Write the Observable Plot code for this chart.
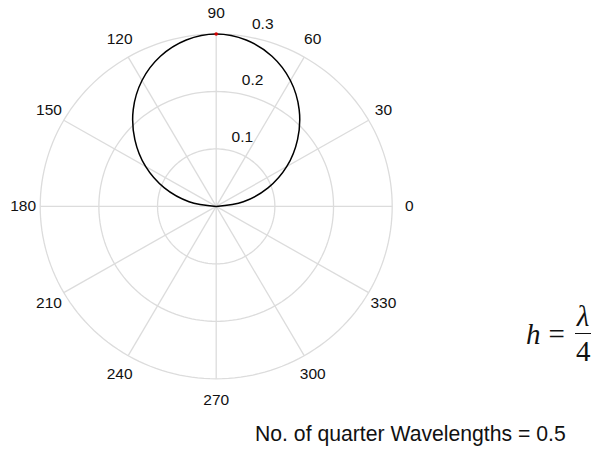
<!DOCTYPE html>
<html>
<head>
<meta charset="utf-8">
<script src="https://cdn.jsdelivr.net/npm/d3@7"></script>
<script src="https://cdn.jsdelivr.net/npm/@observablehq/plot@0.6"></script>
<style>
  html, body { margin: 0; padding: 0; background: #fff; }
  #wrap { position: relative; width: 593px; height: 450px; overflow: hidden; }
  #formula { position: absolute; left: 526px; top: 302px; display: flex; align-items: center;
    font-family: "Liberation Serif", "DejaVu Serif", serif; font-size: 29px; color: #111; }
  #formula .frac { display: inline-flex; flex-direction: column; align-items: center; }
  #formula .num { font-style: italic; line-height: 1; border-bottom: 1.6px solid #111; padding: 0 2px 2px 2px; }
  #formula .den { line-height: 1; padding-top: 3px; }
  #caption { position: absolute; left: 255px; top: 422px; font-family: "Liberation Sans", Arial, sans-serif;
    font-size: 21.2px; color: #111; white-space: nowrap; }
</style>
</head>
<body>
<div id="wrap">
  <div id="chart"></div>
  <div id="formula"><span style="font-style:italic">h</span><span style="margin:0 10px 0 8px">=</span><span class="frac"><span class="num">λ</span><span class="den">4</span></span></div>
  <div id="caption">No. of quarter Wavelengths = 0.5</div>
</div>
<script>
// Radiation pattern (angle in degrees, radius)
const patternAngles = [0, 10, 20, 30, 40, 50, 60, 70, 80, 90, 100, 110, 120, 130, 140, 150, 160, 170, 180];
const patternGain   = [0, 0.047, 0.094, 0.139, 0.181, 0.220, 0.253, 0.278, 0.294, 0.300, 0.294, 0.278, 0.253, 0.220, 0.181, 0.139, 0.094, 0.047, 0];
// Peak marker
const peakAngles = [90];
const peakGain = [0.3];
// Grid
const ringValues = [0.1, 0.2, 0.3];
const ringLabels = ["0.1", "0.2", "0.3"];
const spokeAngles = [0, 30, 60, 90, 120, 150, 180, 210, 240, 270, 300, 330];
const angleLabels = ["0", "30", "60", "90", "120", "150", "180", "210", "240", "270", "300", "330"];

const rad = d => d * Math.PI / 180;
const rMax = d3.max(ringValues);

const curve = patternAngles.map((a, i) => ({x: patternGain[i] * Math.cos(rad(a)), y: patternGain[i] * Math.sin(rad(a))}));
const peak = peakAngles.map((a, i) => ({x: peakGain[i] * Math.cos(rad(a)), y: peakGain[i] * Math.sin(rad(a))}));
const ringPts = ringValues.flatMap(r => d3.range(0, 361, 2).map(t => ({r, x: r * Math.cos(rad(t)), y: r * Math.sin(rad(t))})));
const spokes = spokeAngles.map(a => ({x2: rMax * Math.cos(rad(a)), y2: rMax * Math.sin(rad(a))}));
const angleLab = spokeAngles.map((a, i) => ({text: angleLabels[i], x: rMax * 1.097 * Math.cos(rad(a)), y: rMax * 1.122 * Math.sin(rad(a))}));
const ringLab = ringValues.map((r, i) => ({text: ringLabels[i], x: r * Math.cos(rad(80)), y: r * Math.sin(rad(80))}));

const grid = "#dcdcdc";
const chart = Plot.plot({
  width: 593,
  height: 450,
  margin: 0,
  x: {domain: [-rMax, rMax], range: [39.7, 391.7], axis: null},
  y: {domain: [-rMax, rMax], range: [378.3, 33.5], axis: null},
  style: {fontFamily: "'Liberation Sans', Arial, sans-serif", background: "white"},
  marks: [
    Plot.line(ringPts, {x: "x", y: "y", z: "r", stroke: grid, strokeWidth: 1.3}),
    Plot.link(spokes, {x1: 0, y1: 0, x2: "x2", y2: "y2", stroke: grid, strokeWidth: 1.3}),
    Plot.text(angleLab, {x: "x", y: "y", text: "text", fontSize: 15.5, fill: "#111", textAnchor: "middle", lineAnchor: "middle"}),
    Plot.text(ringLab, {x: "x", y: "y", text: "text", fontSize: 15.5, fill: "#111", textAnchor: "middle", lineAnchor: "middle", dx: 16, dy: -13}),
    Plot.line(curve, {x: "x", y: "y", curve: "catmull-rom", stroke: "black", strokeWidth: 1.5}),
    Plot.dot(peak, {x: "x", y: "y", r: 1.8, fill: "#d40000", stroke: "none"})
  ]
});
document.getElementById("chart").append(chart);
</script>
</body>
</html>
